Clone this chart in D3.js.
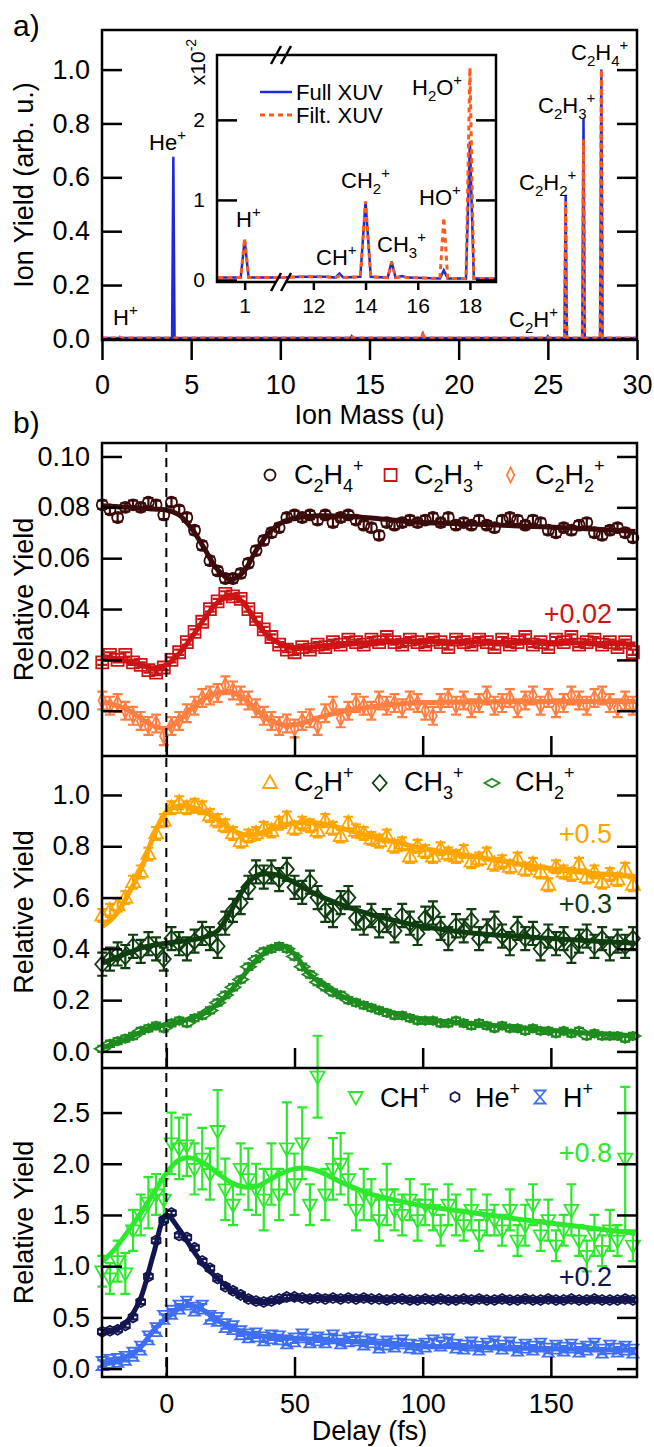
<!DOCTYPE html>
<html>
<head>
<meta charset="utf-8">
<script src="https://cdn.jsdelivr.net/npm/d3@7"></script>
<style>
  body { margin: 0; background: #fff; }
  svg text { font-family: "Liberation Sans", Arial, Helvetica, sans-serif; fill: #000; }
</style>
</head>
<body>
<svg id="chart" width="654" height="1447"></svg>
<script>
// ---------- panel a: mass spectrum ----------
const massMain = [0, 0.95, 1, 1.05, 3.93, 4, 4.07, 13.93, 14, 14.07, 17.93, 18, 18.07, 24.93, 25, 25.07, 25.93, 26, 26.07, 26.93, 27, 27.07, 27.93, 28, 28.07, 30];
const fullMain = [0.003, 0.003, 0.006, 0.003, 0.003, 0.676, 0.003, 0.003, 0.010, 0.003, 0.003, 0.017, 0.003, 0.003, 0.010, 0.003, 0.003, 0.535, 0.003, 0.003, 0.82, 0.003, 0.003, 1.0, 0.003, 0.003];
const filtMain = [0.003, 0.003, 0.006, 0.003, 0.003, 0.003, 0.003, 0.003, 0.012, 0.003, 0.003, 0.027, 0.003, 0.003, 0.005, 0.003, 0.003, 0.51, 0.003, 0.003, 0.74, 0.003, 0.003, 1.0, 0.003, 0.003];

// inset (x10^-2), two pieces either side of the axis break
const massInset1 = [0, 0.85, 1, 1.15, 2.38];
const fullInset1 = [0.03, 0.03, 0.50, 0.03, 0.03];
const filtInset1 = [0.03, 0.03, 0.52, 0.03, 0.03];
const massInset2 = [10.76, 11.5, 12.5, 12.85, 13, 13.15, 13.8, 14, 14.2, 14.85, 15, 15.15, 15.4, 15.6, 16.85, 17, 17.15, 17.85, 18, 18.15, 19];
const fullInset2 = [0.03, 0.04, 0.04, 0.03, 0.08, 0.03, 0.04, 0.98, 0.04, 0.03, 0.23, 0.03, 0.05, 0.03, 0.02, 0.12, 0.02, 0.02, 1.73, 0.02, 0.02];
const filtInset2 = [0.03, 0.04, 0.04, 0.03, 0.05, 0.03, 0.04, 0.98, 0.04, 0.03, 0.22, 0.03, 0.04, 0.03, 0.02, 0.78, 0.02, 0.02, 2.65, 0.02, 0.02];

const massTicks = [0, 5, 10, 15, 20, 25, 30];
const yieldTicks = [0, 0.2, 0.4, 0.6, 0.8, 1.0];
const insetXTicks = [1, 12, 14, 16, 18];
const insetYTicks = [0, 1, 2];

// ---------- panel b: delay scans ----------
const delay = [-25,-22,-19,-16,-13,-10,-7,-4,-1,2,5,8,11,14,17,20,23,26,29,32,35,38,41,44,47,50,53,56,59,62,65,68,71,74,77,80,83,86,89,92,95,98,101,104,107,110,113,116,119,122,125,128,131,134,137,140,143,146,149,152,155,158,161,164,167,170,173,176,179,182];

const yC2H4 = [0.081,0.079,0.076,0.080,0.081,0.080,0.082,0.081,0.077,0.082,
  0.079,0.076,0.071,0.065,0.059,0.055,0.052,0.052,0.054,0.058,
  0.063,0.067,0.070,0.072,0.076,0.077,0.076,0.077,0.075,0.077,
  0.074,0.076,0.077,0.075,0.073,0.072,0.069,0.074,0.073,0.074,
  0.075,0.074,0.075,0.076,0.074,0.076,0.073,0.074,0.073,0.075,
  0.073,0.072,0.075,0.076,0.075,0.073,0.075,0.074,0.071,0.070,
  0.072,0.071,0.073,0.074,0.070,0.069,0.071,0.072,0.070,0.068];
const yC2H3 = [0.019,0.022,0.020,0.022,0.019,0.018,0.016,0.015,0.017,0.020,
  0.023,0.027,0.031,0.035,0.040,0.043,0.046,0.045,0.044,0.040,
  0.036,0.032,0.029,0.026,0.024,0.023,0.025,0.024,0.026,0.025,
  0.027,0.026,0.028,0.027,0.026,0.028,0.027,0.029,0.027,0.026,
  0.028,0.027,0.026,0.028,0.027,0.025,0.028,0.027,0.026,0.028,
  0.027,0.025,0.028,0.026,0.027,0.029,0.026,0.027,0.025,0.028,
  0.027,0.029,0.026,0.027,0.028,0.026,0.027,0.025,0.027,0.023];
const yC2H2 = [0.004,0.002,0.003,0.000,-0.002,-0.004,-0.006,-0.005,-0.010,-0.006,
  -0.004,-0.001,0.002,0.005,0.006,0.007,0.010,0.008,0.006,0.004,
  0.001,-0.002,-0.004,-0.006,-0.005,-0.007,-0.004,-0.003,-0.006,-0.001,
  0.002,-0.003,0.000,0.003,0.002,0.000,0.004,0.002,0.003,0.001,
  0.004,0.003,0.000,-0.002,0.003,0.005,0.002,0.004,0.001,0.003,
  0.006,0.002,0.003,0.005,0.001,0.004,0.006,0.002,0.005,0.001,
  0.003,0.006,0.004,0.002,0.005,0.006,0.003,0.001,0.004,0.002];
const yC2H = [0.53,0.55,0.57,0.60,0.66,0.70,0.77,0.85,0.90,0.95,
  0.97,0.95,0.96,0.95,0.92,0.90,0.88,0.85,0.82,0.84,
  0.85,0.87,0.86,0.89,0.91,0.87,0.89,0.88,0.86,0.90,
  0.87,0.84,0.89,0.86,0.85,0.83,0.82,0.84,0.80,0.81,
  0.76,0.80,0.78,0.76,0.79,0.77,0.76,0.78,0.74,0.75,
  0.77,0.73,0.74,0.72,0.75,0.71,0.73,0.70,0.65,0.72,
  0.70,0.69,0.73,0.68,0.70,0.66,0.69,0.67,0.71,0.65];
const yCH3 = [0.34,0.36,0.38,0.37,0.41,0.39,0.42,0.40,0.36,0.44,
  0.42,0.40,0.43,0.46,0.44,0.41,0.50,0.55,0.58,0.64,
  0.70,0.68,0.70,0.67,0.71,0.64,0.62,0.66,0.60,0.55,
  0.53,0.58,0.60,0.52,0.50,0.53,0.49,0.51,0.47,0.53,
  0.50,0.46,0.52,0.54,0.48,0.44,0.49,0.47,0.51,0.44,
  0.47,0.50,0.45,0.42,0.48,0.44,0.46,0.40,0.45,0.42,
  0.44,0.39,0.43,0.45,0.41,0.44,0.40,0.43,0.41,0.44];
const yCH2 = [0.01,0.03,0.04,0.05,0.06,0.08,0.09,0.10,0.09,0.11,
  0.12,0.11,0.13,0.14,0.16,0.19,0.22,0.25,0.28,0.33,
  0.36,0.39,0.40,0.41,0.40,0.37,0.33,0.30,0.27,0.25,
  0.23,0.22,0.20,0.19,0.18,0.17,0.16,0.15,0.14,0.14,
  0.13,0.12,0.12,0.12,0.11,0.11,0.12,0.11,0.10,0.11,
  0.10,0.09,0.10,0.09,0.09,0.08,0.09,0.08,0.08,0.07,
  0.08,0.07,0.08,0.06,0.07,0.06,0.06,0.06,0.05,0.06];
const yCH = [0.95,0.88,1.05,0.93,1.35,1.50,1.62,1.70,1.65,2.20,
  2.15,2.18,1.95,2.05,1.90,2.32,1.75,1.60,1.95,1.85,
  1.75,1.65,1.90,1.70,2.15,1.80,2.20,1.60,2.85,1.70,
  1.95,2.00,1.85,1.55,1.70,1.65,1.45,1.70,1.55,1.50,
  1.65,1.45,1.60,1.55,1.35,1.60,1.50,1.40,1.55,1.30,
  1.50,1.45,1.35,1.55,1.25,1.40,1.60,1.30,1.45,1.20,
  1.35,1.55,1.25,1.10,1.30,1.15,1.35,1.25,2.05,1.20];
const errCH = [0.15,0.15,0.2,0.2,0.2,0.2,0.25,0.2,0.2,0.3,
  0.3,0.3,0.25,0.3,0.25,0.4,0.3,0.2,0.25,0.3,
  0.25,0.3,0.3,0.25,0.45,0.3,0.35,0.2,0.4,0.25,
  0.3,0.3,0.25,0.2,0.25,0.2,0.2,0.3,0.2,0.2,
  0.2,0.2,0.2,0.2,0.15,0.2,0.2,0.15,0.2,0.15,
  0.2,0.15,0.15,0.2,0.15,0.2,0.2,0.15,0.2,0.15,
  0.15,0.25,0.15,0.15,0.2,0.15,0.2,0.15,0.7,0.15];
const yHe = [0.36,0.37,0.38,0.42,0.50,0.65,0.90,1.25,1.45,1.52,
  1.30,1.28,1.18,1.05,0.98,0.88,0.80,0.76,0.72,0.68,
  0.66,0.65,0.66,0.68,0.70,0.70,0.69,0.68,0.69,0.68,
  0.69,0.68,0.69,0.68,0.69,0.68,0.68,0.67,0.68,0.68,
  0.67,0.67,0.68,0.67,0.68,0.67,0.67,0.68,0.67,0.68,
  0.67,0.67,0.68,0.67,0.67,0.68,0.67,0.67,0.68,0.67,
  0.67,0.68,0.67,0.67,0.68,0.67,0.67,0.67,0.68,0.67];
const yH = [0.05,0.07,0.08,0.10,0.14,0.20,0.30,0.38,0.50,0.55,
  0.60,0.64,0.58,0.60,0.50,0.48,0.42,0.40,0.35,0.32,
  0.33,0.29,0.31,0.30,0.26,0.28,0.32,0.27,0.29,0.27,
  0.31,0.26,0.28,0.29,0.25,0.27,0.22,0.25,0.23,0.26,
  0.22,0.21,0.23,0.26,0.24,0.27,0.22,0.21,0.24,0.20,
  0.23,0.25,0.21,0.24,0.19,0.22,0.20,0.23,0.18,0.21,
  0.19,0.22,0.18,0.20,0.23,0.17,0.21,0.18,0.20,0.17];

// fitted curves
const fitDelay = [-25,-20,-15,-10,-5,0,5,10,15,20,25,30,35,40,45,50,55,60,70,80,90,100,120,140,160,183];
const fitC2H4 = [0.0806,0.0803,0.0800,0.0797,0.0793,0.0789,0.0770,0.0715,0.0635,0.0555,0.0516,0.0545,0.0630,0.0700,0.0740,0.0757,0.0764,0.0767,0.0765,0.0758,0.0748,0.0740,0.0734,0.0726,0.0718,0.0705];
const fitC2H3 = [0.0213,0.0205,0.0193,0.0180,0.0168,0.0180,0.0225,0.0290,0.0365,0.0425,0.0455,0.0425,0.0350,0.0290,0.0262,0.0248,0.0248,0.0254,0.0262,0.0268,0.0271,0.0272,0.0270,0.0268,0.0266,0.0262];
const fitC2H2 = [0.0036,0.0022,0.0003,-0.0030,-0.0060,-0.0069,-0.0038,0.0010,0.0050,0.0070,0.0075,0.0050,0.0005,-0.0035,-0.0055,-0.0055,-0.0043,-0.0025,0.0000,0.0016,0.0026,0.0032,0.0035,0.0036,0.0036,0.0036];
const fitC2H = [0.487,0.530,0.610,0.708,0.838,0.935,0.957,0.952,0.935,0.903,0.868,0.846,0.846,0.864,0.880,0.890,0.893,0.890,0.866,0.838,0.814,0.792,0.760,0.727,0.701,0.682];
const fitCH3 = [0.344,0.365,0.384,0.403,0.414,0.422,0.428,0.435,0.446,0.470,0.545,0.630,0.685,0.693,0.682,0.658,0.630,0.605,0.566,0.533,0.508,0.487,0.461,0.447,0.434,0.422];
const fitCH2 = [0.013,0.033,0.052,0.075,0.097,0.104,0.117,0.130,0.150,0.185,0.235,0.295,0.355,0.396,0.413,0.380,0.310,0.268,0.208,0.175,0.147,0.126,0.108,0.091,0.074,0.062];
const fitCH = [1.043,1.170,1.340,1.517,1.712,1.908,2.038,2.055,2.000,1.908,1.820,1.775,1.777,1.840,1.908,1.950,1.955,1.920,1.800,1.700,1.640,1.590,1.520,1.450,1.390,1.320];
const fitHe = [0.358,0.375,0.470,0.690,1.120,1.500,1.360,1.170,1.000,0.880,0.773,0.705,0.665,0.655,0.668,0.685,0.691,0.690,0.685,0.680,0.677,0.675,0.672,0.670,0.669,0.668];
const fitH = [0.049,0.070,0.125,0.211,0.375,0.489,0.587,0.617,0.560,0.473,0.400,0.355,0.326,0.310,0.300,0.294,0.288,0.282,0.268,0.255,0.238,0.221,0.210,0.199,0.189,0.179];

const delayTicks = [0, 50, 100, 150];
const ticksB1 = [0, 0.02, 0.04, 0.06, 0.08, 0.10];
const ticksB2 = [0, 0.2, 0.4, 0.6, 0.8, 1.0];
const ticksB3 = [0, 0.5, 1.0, 1.5, 2.0, 2.5];

// ---------- drawing ----------
const svg = d3.select('#chart');
const L = 102, R = 637;
const blue = '#1c2bd4', orange = '#ff5a1a';

// chemical formula text: _x subscript, ^x superscript
function chem(g, str, x, y, size, color) {
  const t = g.append('text').attr('x', x).attr('y', y)
      .style('font-size', size + 'px');
  if (color) t.style('fill', color);
  const small = Math.round(size * 0.66);
  const re = /_(\d)|\^([+\-\d]+)|([^_^]+)/g;
  let m, cur = 0;
  while ((m = re.exec(str))) {
    let target = 0, txt = m[3], fs = size;
    if (m[1]) { target = size * 0.28; txt = m[1]; fs = small; }
    if (m[2]) { target = -size * 0.45; txt = m[2]; fs = small; }
    t.append('tspan').attr('dy', target - cur).style('font-size', fs + 'px').text(txt);
    cur = target;
  }
  return t;
}

function styleAxis(g, size) {
  g.select('.domain').remove();
  g.selectAll('.tick line').attr('stroke', '#000').attr('stroke-width', 2.5);
  g.selectAll('.tick text').style('font-size', size + 'px');
}

// ---- panel a ----
const xA = d3.scaleLinear().domain([0, 30]).range([L, R]);
const yA = d3.scaleLinear().domain([-0.004, 1.147]).range([340, 30]);

const lineA = d3.line().x(d => xA(d[0])).y(d => yA(d[1]));
svg.append('path').attr('d', lineA(d3.zip(massMain, fullMain)))
    .attr('fill', 'none').attr('stroke', blue).attr('stroke-width', 2.5);
svg.append('path').attr('d', lineA(d3.zip(massMain, filtMain)))
    .attr('fill', 'none').attr('stroke', orange).attr('stroke-width', 3)
    .attr('stroke-dasharray', '5,4');

svg.append('g').attr('transform', `translate(${L},0)`)
    .call(d3.axisLeft(yA).tickValues(yieldTicks).tickFormat(d3.format('.1f')).tickSize(-20).tickPadding(12))
    .call(g => styleAxis(g, 27));
svg.append('g').attr('transform', `translate(${R},0)`)
    .call(d3.axisRight(yA).tickValues(yieldTicks).tickFormat('').tickSize(-20))
    .call(g => styleAxis(g, 27));
svg.append('g').attr('transform', 'translate(0,340)')
    .call(d3.axisBottom(xA).tickValues(massTicks).tickSize(20).tickPadding(15))
    .call(g => styleAxis(g, 27));

svg.append('rect').attr('x', L).attr('y', 30).attr('width', R - L).attr('height', 310)
    .attr('fill', 'none').attr('stroke', '#000').attr('stroke-width', 2.5);

// inset
const iL = 217, iR = 496, iT = 55, iB = 282;
const xI = d3.scaleLinear().domain([-0.05, 2.38, 10.76, 19.0]).range([iL, 281, 281, iR]);
const yI = d3.scaleLinear().domain([-0.025, 2.81]).range([iB, iT]);
svg.append('rect').attr('x', iL).attr('y', iT).attr('width', iR - iL).attr('height', iB - iT)
    .attr('fill', '#fff');
const lineI = d3.line().x(d => xI(d[0])).y(d => yI(d[1]));
[[massInset1, fullInset1, filtInset1], [massInset2, fullInset2, filtInset2]].forEach(([m, f, o]) => {
  svg.append('path').attr('d', lineI(d3.zip(m, f)))
      .attr('fill', 'none').attr('stroke', blue).attr('stroke-width', 2.5);
  svg.append('path').attr('d', lineI(d3.zip(m, o)))
      .attr('fill', 'none').attr('stroke', orange).attr('stroke-width', 3)
      .attr('stroke-dasharray', '5,4');
});
svg.append('g').attr('transform', `translate(${iL},0)`)
    .call(d3.axisLeft(yI).tickValues(insetYTicks).tickFormat(d3.format('d')).tickSize(-20).tickPadding(12))
    .call(g => styleAxis(g, 21));
svg.append('g').attr('transform', `translate(${iR},0)`)
    .call(d3.axisRight(yI).tickValues(insetYTicks).tickFormat('').tickSize(-20))
    .call(g => styleAxis(g, 21));
svg.append('g').attr('transform', `translate(0,${iB})`)
    .call(d3.axisBottom(xI).tickValues(insetXTicks).tickFormat(d3.format('d')).tickSize(8).tickPadding(8))
    .call(g => styleAxis(g, 21));
svg.append('rect').attr('x', iL).attr('y', iT).attr('width', iR - iL).attr('height', iB - iT)
    .attr('fill', 'none').attr('stroke', '#000').attr('stroke-width', 2.5);

// axis break marks
svg.append('rect').attr('x', 276).attr('y', iB - 3).attr('width', 9).attr('height', 6).attr('fill', '#fff');
[iT, iB].forEach(yy => {
  [-5, 5].forEach(dx => {
    svg.append('line')
        .attr('x1', 281 + dx - 5).attr('y1', yy + 9)
        .attr('x2', 281 + dx + 5).attr('y2', yy - 9)
        .attr('stroke', '#000').attr('stroke-width', 2.5);
  });
});

// inset legend
svg.append('line').attr('x1', 260).attr('x2', 292).attr('y1', 92).attr('y2', 92)
    .attr('stroke', blue).attr('stroke-width', 2.5);
svg.append('text').attr('x', 296).attr('y', 100).style('font-size', '22px').text('Full XUV');
svg.append('line').attr('x1', 260).attr('x2', 294).attr('y1', 115).attr('y2', 115)
    .attr('stroke', orange).attr('stroke-width', 3).attr('stroke-dasharray', '5,4');
svg.append('text').attr('x', 296).attr('y', 123).style('font-size', '22px').text('Filt. XUV');

const sc = svg.append('g').attr('transform', 'translate(205,62) rotate(-90)');
chem(sc, 'x10^-2', 0, 0, 21).attr('text-anchor', 'middle');

// peak labels
const peakLabels = [
  ['He^+', 149, 150], ['H^+', 113, 325], ['C_2H^+', 509, 327], ['C_2H_2^+', 519, 190],
  ['C_2H_3^+', 538, 113], ['C_2H_4^+', 571, 60],
  ['H_2O^+', 412, 95], ['HO^+', 419, 205], ['CH_2^+', 341, 188], ['H^+', 236, 227],
  ['CH^+', 316, 265], ['CH_3^+', 377, 252]
];
peakLabels.forEach(([s, x, y]) => chem(svg, s, x, y, 22));

svg.append('text').attr('x', (L + R) / 2).attr('y', 424).attr('text-anchor', 'middle')
    .style('font-size', '27px').text('Ion Mass (u)');
svg.append('text').attr('transform', 'translate(33,185) rotate(-90)').attr('text-anchor', 'middle')
    .style('font-size', '27px').text('Ion Yield (arb. u.)');
svg.append('text').attr('x', 13).attr('y', 36).style('font-size', '30px').text('a)');
svg.append('text').attr('x', 13).attr('y', 433).style('font-size', '30px').text('b)');

// ---- panel b ----
const xB = d3.scaleLinear().domain([-25.1, 183.6]).range([L, R]);

function markerPath(shape) {
  switch (shape) {
    case 'circle': return d3.symbol(d3.symbolCircle, 95)();
    case 'square': return 'M-6,-6H6V6H-6Z';
    case 'thinDiamond': return 'M0,-7.5L3.8,0L0,7.5L-3.8,0Z';
    case 'triUp': return 'M0,-7.5L7,5L-7,5Z';
    case 'diamond': return 'M0,-8L7,0L0,8L-7,0Z';
    case 'wideDiamond': return 'M0,-4.3L7.5,0L0,4.3L-7.5,0Z';
    case 'triDown': return 'M0,7.5L7,-5L-7,-5Z';
    case 'hex': return 'M0,-5L4.4,-2.5L4.4,2.5L0,5L-4.4,2.5L-4.4,-2.5Z';
    case 'hourglass': return 'M-5.5,-6.5L5.5,-6.5L-5.5,6.5L5.5,6.5Z';
  }
}

const panels = [
  {top: 443, bottom: 756, domain: [-0.0178, 0.1053], ticks: ticksB1, fmt: '.2f',
   series: [
     {y: yC2H4, err: 0.0016, fit: fitC2H4, color: '#3b0b0b', shape: 'circle', label: 'C_2H_4^+'},
     {y: yC2H3, err: 0.001, fit: fitC2H3, color: '#cc1414', shape: 'square', label: 'C_2H_3^+'},
     {y: yC2H2, err: 0.0035, fit: fitC2H2, color: '#ff7f42', shape: 'thinDiamond', label: 'C_2H_2^+'}
   ],
   legend: {y: 475, base: 484, items: [[270, 294], [390.6, 414], [510.6, 535]]},
   offsets: [['+0.02', 623, '#cc1414']]},
  {top: 756, bottom: 1068, domain: [-0.0647, 1.152], ticks: ticksB2, fmt: '.1f',
   series: [
     {y: yC2H, err: 0.025, fit: fitC2H, color: '#ffa500', shape: 'triUp', label: 'C_2H^+'},
     {y: yCH3, err: 0.045, fit: fitCH3, color: '#0f3d10', shape: 'diamond', label: 'CH_3^+'},
     {y: yCH2, err: 0.012, fit: fitCH2, color: '#1e8c1e', shape: 'wideDiamond', label: 'CH_2^+'}
   ],
   legend: {y: 783, base: 791, items: [[270, 294], [379.7, 404], [492, 515]]},
   offsets: [['+0.5', 843, '#ffa500'], ['+0.3', 913, '#0f3d10']]},
  {top: 1068, bottom: 1377, domain: [-0.082, 2.935], ticks: ticksB3, fmt: '.1f',
   series: [
     {y: yCH, err: errCH, fit: fitCH, color: '#2ee82e', shape: 'triDown', label: 'CH^+'},
     {y: yHe, err: 0.02, fit: fitHe, color: '#12154f', shape: 'hex', label: 'He^+'},
     {y: yH, err: 0.03, fit: fitH, color: '#3f6ff0', shape: 'hourglass', label: 'H^+'}
   ],
   legend: {y: 1097, base: 1107, items: [[355.8, 380], [455, 475], [540, 563]]},
   offsets: [['+0.8', 1162, '#2ee82e'], ['+0.2', 1286, '#12154f']]}
];

panels.forEach((p, pi) => {
  const yS = d3.scaleLinear().domain(p.domain).range([p.bottom, p.top]);
  const g = svg.append('g');

  p.series.forEach(s => {
    const pts = delay.map((d, i) => ({x: d, y: s.y[i], e: Array.isArray(s.err) ? s.err[i] : s.err}));
    const eb = g.append('g').attr('stroke', s.color).attr('stroke-width', 2.2).attr('fill', 'none');
    pts.forEach(d => {
      const cx = xB(d.x), y1 = yS(d.y - d.e), y2 = yS(d.y + d.e);
      eb.append('path').attr('d', `M${cx},${y1}V${y2}M${cx - 5},${y1}H${cx + 5}M${cx - 5},${y2}H${cx + 5}`);
    });
    g.append('g').selectAll('path').data(pts).join('path')
        .attr('d', markerPath(s.shape))
        .attr('transform', d => `translate(${xB(d.x)},${yS(d.y)})`)
        .attr('fill', 'none').attr('stroke', s.color).attr('stroke-width', 1.8);
  });

  p.series.forEach(s => {
    const line = d3.line().curve(d3.curveCatmullRom.alpha(0.5))
        .x((d, i) => xB(fitDelay[i])).y(d => yS(d));
    g.append('path').attr('d', line(s.fit))
        .attr('fill', 'none').attr('stroke', s.color).attr('stroke-width', 5)
        .attr('stroke-linejoin', 'round');
  });

  // axes
  svg.append('g').attr('transform', `translate(${L},0)`)
      .call(d3.axisLeft(yS).tickValues(p.ticks).tickFormat(d3.format(p.fmt)).tickSize(-20).tickPadding(12))
      .call(a => styleAxis(a, 27));
  svg.append('g').attr('transform', `translate(${R},0)`)
      .call(d3.axisRight(yS).tickValues(p.ticks).tickFormat('').tickSize(-20))
      .call(a => styleAxis(a, 27));
  svg.append('g').attr('transform', `translate(0,${p.bottom})`)
      .call(d3.axisBottom(xB).tickValues(delayTicks).tickSize(-20).tickPadding(17)
        .tickFormat(pi === 2 ? d3.format('d') : ''))
      .call(a => styleAxis(a, 27));

  // legend
  p.series.forEach((s, i) => {
    const [mx, tx] = p.legend.items[i];
    svg.append('path').attr('d', markerPath(s.shape))
        .attr('transform', `translate(${mx},${p.legend.y})`)
        .attr('fill', 'none').attr('stroke', s.color).attr('stroke-width', 1.8);
    chem(svg, s.label, tx, p.legend.base, 27);
  });

  p.offsets.forEach(([t, y, c]) => {
    svg.append('text').attr('x', 612).attr('y', y).attr('text-anchor', 'end')
        .style('font-size', '27px').style('fill', c).text(t);
  });

  svg.append('text')
      .attr('transform', `translate(33,${(p.top + p.bottom) / 2}) rotate(-90)`)
      .attr('text-anchor', 'middle').style('font-size', '27px').text('Relative Yield');
});

// zero delay marker
svg.append('line').attr('x1', xB(0)).attr('x2', xB(0)).attr('y1', 443).attr('y2', 1377)
    .attr('stroke', '#000').attr('stroke-width', 2).attr('stroke-dasharray', '9,6');

// frames
svg.append('rect').attr('x', L).attr('y', 443).attr('width', R - L).attr('height', 1377 - 443)
    .attr('fill', 'none').attr('stroke', '#000').attr('stroke-width', 2.5);
[756, 1068].forEach(y => svg.append('line').attr('x1', L).attr('x2', R).attr('y1', y).attr('y2', y)
    .attr('stroke', '#000').attr('stroke-width', 2.5));

svg.append('text').attr('x', (L + R) / 2).attr('y', 1440).attr('text-anchor', 'middle')
    .style('font-size', '27px').text('Delay (fs)');
</script>
</body>
</html>
